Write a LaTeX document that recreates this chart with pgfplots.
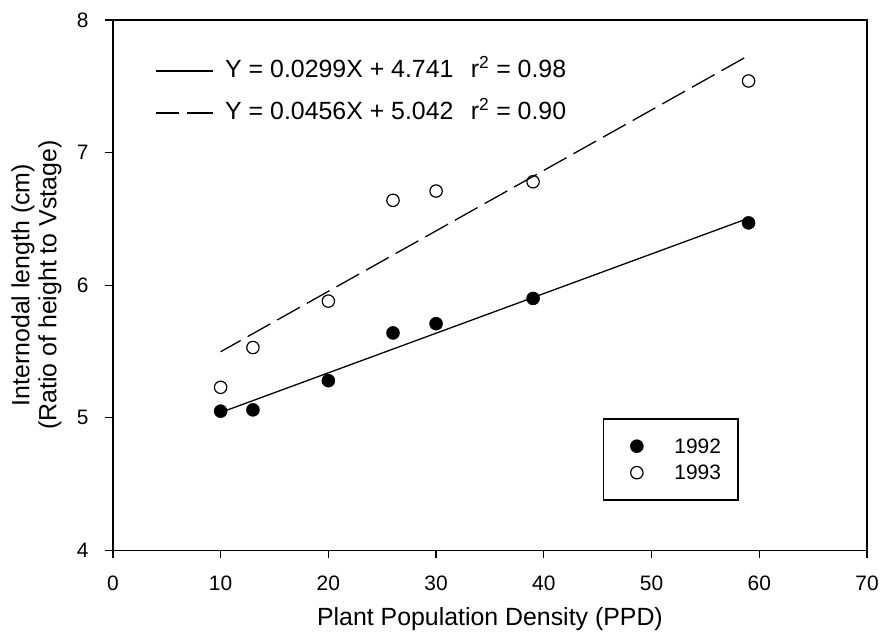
\documentclass[border=0pt]{standalone}
\usepackage{pgfplots}
\pgfplotsset{compat=1.18}
\usepackage{fontspec}
\setmainfont{Liberation Sans}

\begin{document}
\begin{tikzpicture}
\path (-113bp,-87bp) rectangle (769bp,551bp);
% regression lines with equation legend
\begin{axis}[
  width=755bp, height=531bp, scale only axis,
  xmin=0, xmax=70, ymin=4, ymax=8,
  hide axis, clip=false,
  legend style={at={(0.0556,0.9436)}, anchor=north west, draw=none, fill=none,
    inner xsep=0pt, inner ysep=0pt, row sep=0pt, column sep=0pt,
    font=\fontsize{25}{25}\selectfont,
    nodes={inner xsep=12bp, inner ysep=9.5bp, text height=18bp, text depth=5bp}},
  legend cell align=left,
  legend image code/.code={\draw[#1] (0bp,0bp) -- (57bp,0bp);},
]
\addplot[black, line width=1.3bp] coordinates {(10,5.040) (59,6.505)};
\addlegendentry{Y = 0.0299X + 4.741\hspace{0.7em}r\textsuperscript{2} = 0.98}
\addplot[black, line width=1.3bp, dash pattern=on 26bp off 8bp, dash phase=3bp] coordinates {(10,5.498) (59,7.732)};
\addlegendentry{Y = 0.0456X + 5.042\hspace{0.7em}r\textsuperscript{2} = 0.90}
\end{axis}
% data axis
\begin{axis}[
  width=755bp, height=531bp, scale only axis,
  xmin=0, xmax=70, ymin=4, ymax=8,
  xtick={0,10,...,70}, ytick={4,5,6,7,8},
  xtick pos=bottom, ytick pos=left, tick align=outside,
  major tick length=8bp,
  axis line style={line width=1.5bp},
  every tick/.style={black, line width=1.3bp},
  tick label style={font=\fontsize{21}{21}\selectfont},
  xticklabel style={yshift=-14bp},
  yticklabel style={xshift=-13bp},
  /pgf/number format/assume math mode=true,
  xlabel={Plant Population Density (PPD)},
  ylabel={Internodal length (cm)\\(Ratio of height to Vstage)},
  every axis x label/.style={at={(axis description cs:0.5,-0.1299)}, anchor=center, font=\fontsize{25}{25}\selectfont},
  every axis y label/.style={at={(axis description cs:-0.1013,0.5)}, rotate=90, anchor=center, align=center, font=\fontsize{25}{27}\selectfont},
  legend style={at={(0.650,0.094)}, anchor=south west, draw=black, line width=1.3bp,
    inner xsep=13bp, inner ysep=14bp, column sep=26.5bp, row sep=0pt,
    font=\fontsize{21}{21}\selectfont,
    nodes={inner xsep=4bp, inner ysep=6bp, text height=14.5bp, text depth=0bp}},
  legend cell align=left,
  legend image code/.code={\path (-19.5bp,0bp) (6.5bp,0bp); \draw[#1] plot coordinates {(0bp,0bp)};},
]
\addplot[only marks, mark=*, mark size=6.5bp, black, mark options={line width=0.5bp}] coordinates {
  (10,5.05) (13,5.06) (20,5.28) (26,5.64) (30,5.71) (39,5.90) (59,6.47)};
\addlegendentry{1992}
\addplot[only marks, mark=o, mark size=6.2bp, black, mark options={fill=white, line width=1.2bp}] coordinates {
  (10,5.23) (13,5.53) (20,5.88) (26,6.64) (30,6.71) (39,6.78) (59,7.54)};
\addlegendentry{1993}
\end{axis}
\end{tikzpicture}
\end{document}
